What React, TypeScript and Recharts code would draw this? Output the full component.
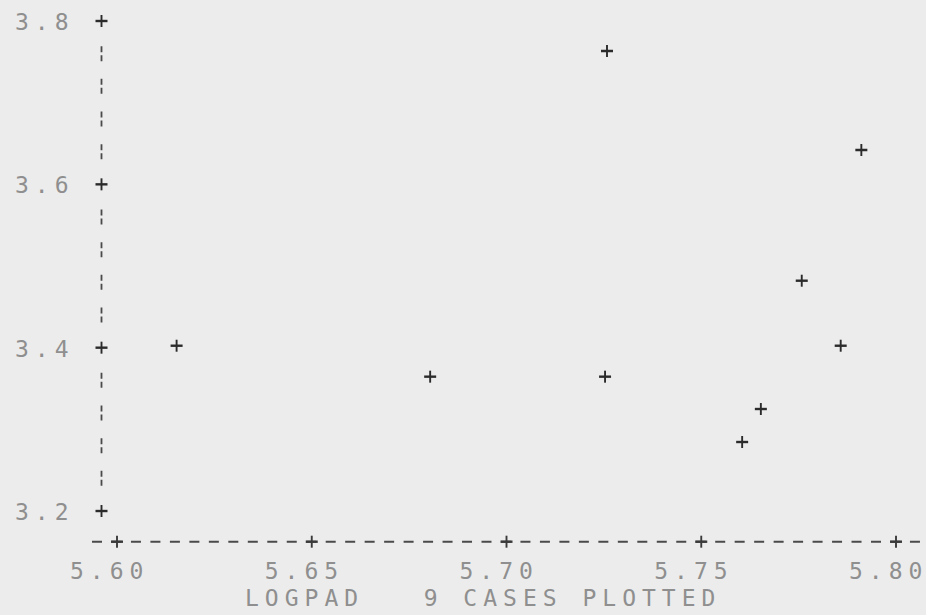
import React from 'react';
import { ScatterChart, Scatter, XAxis, YAxis, ReferenceLine } from 'recharts';

// LOGPAD values (x) and the plotted variable (y) for the 9 cases
const caseX = [5.6153, 5.6804, 5.7258, 5.7253, 5.7911, 5.7758, 5.7858, 5.7653, 5.7605];
const caseY = [3.4024, 3.3645, 3.7633, 3.3645, 3.642, 3.482, 3.4024, 3.3249, 3.2845];

const xTicks = [5.6, 5.65, 5.7, 5.75, 5.8];
const xTickLabels = ['5.60', '5.65', '5.70', '5.75', '5.80'];
const yTicks = [3.2, 3.4, 3.6, 3.8];
const yTickLabels = ['3.2', '3.4', '3.6', '3.8'];

const xDomain: [number, number] = [5.59358, 5.8077];
const yDomain: [number, number] = [3.16243, 3.8];
const yAxisAt = 5.59602;
const titleText = 'LOGPAD   9 CASES PLOTTED';

const data = caseX.map((x, i) => ({ x, y: caseY[i] }));

const FONT = "'DejaVu Sans Mono', 'Liberation Mono', monospace";
const FONT_SIZE = 23;
const PITCH = 19.85;
const ADVANCE = 0.602 * FONT_SIZE;
const TEXT_FILL = '#8f8f8f';
const INK = '#2b2b2b';

const Mono = ({ x, y, children }: any) => {
  const s = String(children);
  return (
    <text x={x} y={y} textAnchor="start" fontFamily={FONT} fontSize={FONT_SIZE} fill={TEXT_FILL}
      textLength={(s.length - 1) * PITCH + ADVANCE} lengthAdjust="spacing"
      style={{ whiteSpace: 'pre' }} xmlSpace="preserve">
      {s}
    </text>
  );
};

const Cross = ({ cx, cy, color = INK, size = 6 }: any) => (
  <g>
    <line x1={cx - size} y1={cy} x2={cx + size} y2={cy} stroke={color} strokeWidth={2.4} />
    <line x1={cx} y1={cy - size} x2={cx} y2={cy + size} stroke={color} strokeWidth={1.9} />
  </g>
);

const XTick = (props: any) => {
  const { x, y, payload } = props;
  const i = xTicks.indexOf(payload.value);
  const label = i >= 0 ? xTickLabels[i] : String(payload.value);
  return (
    <g>
      <Cross cx={x} cy={y} color="#3a3a3a" size={6} />
      <Mono x={x - 47} y={y + 37}>{label}</Mono>
    </g>
  );
};

const YTick = (props: any) => {
  const { x, y, payload } = props;
  const i = yTicks.indexOf(payload.value);
  const label = i >= 0 ? yTickLabels[i] : String(payload.value);
  return (
    <g>
      <Cross cx={x + 9.5} cy={y} color={INK} size={6} />
      <Mono x={x - 77} y={y + 9}>{label}</Mono>
    </g>
  );
};

const TitleLabel = (props: any) => {
  const vb = props.viewBox || { x: 92, y: 541.7 };
  return <Mono x={vb.x + 153} y={vb.y + 64}>{titleText}</Mono>;
};

const PointShape = (props: any) => <Cross cx={props.cx} cy={props.cy} color={INK} size={6} />;

export default function App() {
  const segments = yTicks.slice(0, -1).map((a, k) => {
    const b = yTicks[k + 1];
    return [
      { x: yAxisAt, y: b - 0.01 },
      { x: yAxisAt, y: a + 0.01 },
    ];
  });
  return (
    <div style={{ position: 'absolute', left: 0, top: 0, width: 926, height: 615, background: '#ececec' }}>
      <ScatterChart width={926} height={615} margin={{ top: 21, right: 0, bottom: 0, left: 0 }}>
        <XAxis
          type="number"
          dataKey="x"
          domain={xDomain}
          allowDataOverflow
          ticks={xTicks}
          interval={0}
          height={73.3}
          tickSize={0}
          tickMargin={0}
          tickLine={false}
          axisLine={{ stroke: '#4a4a4a', strokeWidth: 2, strokeDasharray: '10 9.475', strokeDashoffset: 0 }}
          tick={<XTick />}
          label={{ content: <TitleLabel /> }}
        />
        <YAxis
          type="number"
          dataKey="y"
          domain={yDomain}
          allowDataOverflow
          ticks={yTicks}
          interval={0}
          width={92}
          tickSize={0}
          tickMargin={0}
          tickLine={false}
          axisLine={false}
          tick={<YTick />}
        />
        {segments.map((seg, k) => (
          <ReferenceLine
            key={k}
            segment={seg}
            stroke="#4a4a4a"
            strokeWidth={1.8}
            strokeDasharray="6 3 6 17.67"
            strokeDashoffset={15.7}
          />
        ))}
        <Scatter data={data} isAnimationActive={false} shape={<PointShape />} />
      </ScatterChart>
    </div>
  );
}
